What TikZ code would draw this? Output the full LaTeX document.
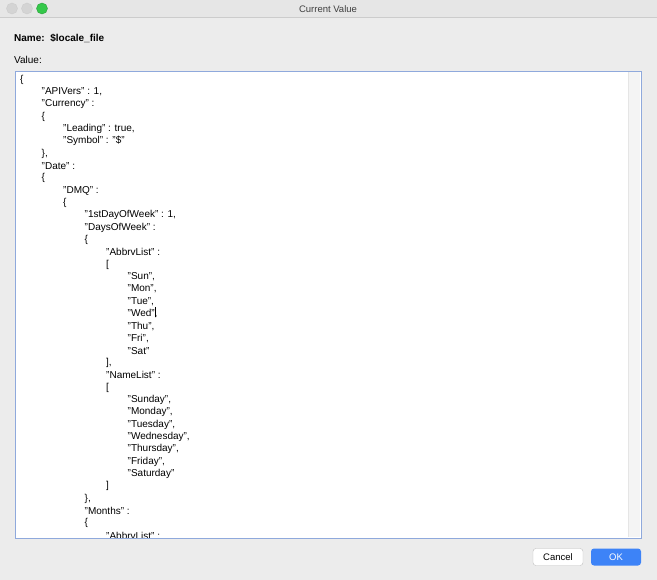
\documentclass[tikz,border=0pt]{standalone}
\usepackage{fontspec}
\setmainfont{Liberation Sans}
\definecolor{winbg}{HTML}{ECECEC}
\definecolor{titlebg}{HTML}{E6E6E6}
\definecolor{boxborder}{HTML}{8FA9DC}
\definecolor{okblue}{HTML}{3D83F7}
\definecolor{tlgray}{HTML}{D4D4D4}
\definecolor{tlgreen}{HTML}{35C84A}
\definecolor{scrollbg}{HTML}{F4F4F4}
\begin{document}
\begin{tikzpicture}[x=1pt,y=-1pt,
  txt/.style={anchor=west,inner sep=0pt,font=\fontsize{10}{11}\selectfont},
  btn/.style={rounded corners=3pt,minimum width=50pt,minimum height=17pt,inner sep=0pt,font=\fontsize{9.5}{11}\selectfont}]
\useasboundingbox (0,0) rectangle (657,580);
\fill[winbg] (0,0) rectangle (657,580);
\fill[titlebg] (0,0) rectangle (657,17);
\draw[black!20] (0,17.5) -- (657,17.5);
\node[inner sep=0pt,font=\fontsize{9.5}{11}\selectfont,text=black!75] (title) at (328,9) {Current Value};
\node[circle,fill=tlgray,draw=black!20,minimum size=11pt,inner sep=0pt] (tl1) at (12,8.5) {};
\node[circle,fill=tlgray,draw=black!20,minimum size=11pt,inner sep=0pt] (tl2) at (27,8.5) {};
\node[circle,fill=tlgreen,draw=tlgreen!80!black,minimum size=11pt,inner sep=0pt] (tl3) at (42,8.5) {};
\node[txt,font=\fontsize{10}{11}\selectfont\bfseries] (name) at (14,38.5) {Name:\ \ \$locale\_file};
\node[txt] (vlab) at (14,59.5) {Value:};
\fill[white] (15,71) rectangle (641,538);
\fill[scrollbg] (628,72) rectangle (640,537);
\draw[black!10] (628,72) -- (628,537);
\begin{scope}
\clip (15,71) rectangle (628,537.5);
\foreach \lvl/\t [count=\i from 0] in {
0/{\{},1/{"APIVers" : 1,},1/{"Currency" :},1/{\{},2/{"Leading" : true,},2/{"Symbol" : "\$"},1/{\},},1/{"Date" :},1/{\{},
2/{"DMQ" :},2/{\{},3/{"1stDayOfWeek" : 1,},3/{"DaysOfWeek" :},3/{\{},4/{"AbbrvList" :},4/{[},
5/{"Sun",},5/{"Mon",},5/{"Tue",},5/{"Wed",},5/{"Thu",},5/{"Fri",},5/{"Sat"},4/{],},4/{"NameList" :},4/{[},
5/{"Sunday",},5/{"Monday",},5/{"Tuesday",},5/{"Wednesday",},5/{"Thursday",},5/{"Friday",},5/{"Saturday"},4/{]},
3/{\},},3/{"Months" :},3/{\{},4/{"AbbrvList" :},4/{[}}
  \node[txt] (l\i) at ({20+21.5*\lvl},{79.5+12.33*\i}) {\t};
\end{scope}
\draw[black,line width=0.5pt] (155.5,307) -- (155.5,317);
\draw[boxborder,line width=0.8pt] (15,71) rectangle (641,538);
\node[btn,fill=white,draw=black!25] (cancel) at (558,557) {Cancel};
\node[btn,fill=okblue,text=white] (ok) at (616,557) {OK};
\end{tikzpicture}
\end{document}
